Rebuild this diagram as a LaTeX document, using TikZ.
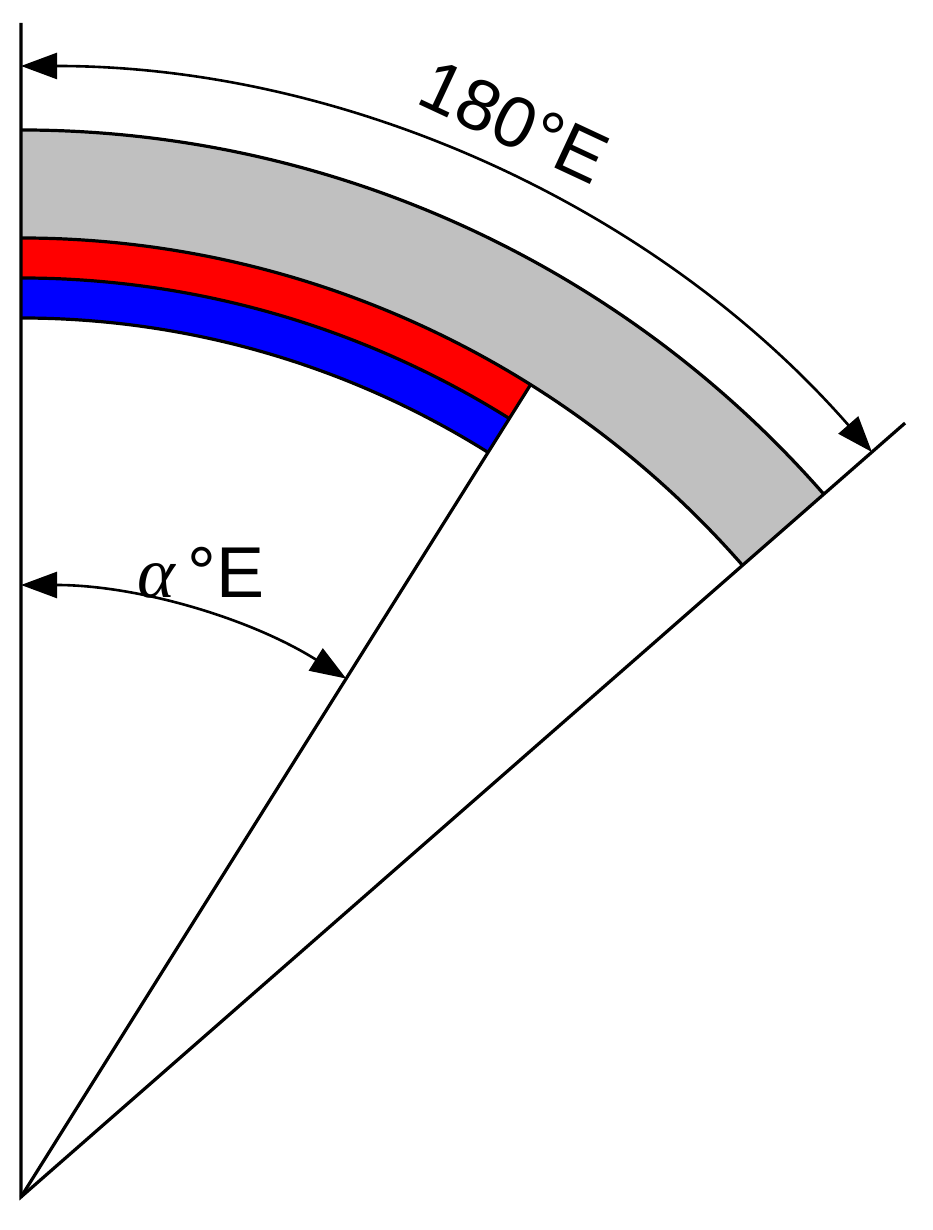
\documentclass[tikz,border=0pt]{standalone}
\usepackage{fontspec}
\setmainfont{Liberation Sans}
\newfontfamily\greekfont{Liberation Serif}
\usetikzlibrary{arrows.meta,calc}
\definecolor{bandgray}{RGB}{192,192,192}
\definecolor{bandred}{RGB}{255,0,0}
\definecolor{bandblue}{RGB}{0,0,255}
\begin{document}
\begin{tikzpicture}[x=1pt,y=1pt,line width=3.2pt,line join=miter,
  dimarrow/.style={{Triangle[length=36pt,width=26pt]}-{Triangle[length=36pt,width=26pt]},line width=2.6pt},
  lbl/.style={font=\fontsize{72}{84}\selectfont,inner sep=0pt}]
\useasboundingbox (0,0) rectangle (932,1230);
\def\as{41.2}
\def\am{57.9}
\coordinate (O) at (21,33);
\coordinate (top) at ($(O)+(90:1174)$);
\coordinate (slantend) at ($(O)+(\as:1175)$);
\coordinate (midend) at ($(O)+(\am:959)$);
% bands
\fill[bandgray] ($(O)+(90:1067)$) arc[start angle=90,end angle=\as,radius=1067]
  -- ($(O)+(\as:959)$) arc[start angle=\as,end angle=90,radius=959] -- cycle;
\fill[bandred] ($(O)+(90:959)$) arc[start angle=90,end angle=\am,radius=959]
  -- ($(O)+(\am:919)$) arc[start angle=\am,end angle=90,radius=919] -- cycle;
\fill[bandblue] ($(O)+(90:919)$) arc[start angle=90,end angle=\am,radius=919]
  -- ($(O)+(\am:879)$) arc[start angle=\am,end angle=90,radius=879] -- cycle;
% band borders
\draw ($(O)+(90:1067)$) arc[start angle=90,end angle=\as,radius=1067];
\draw ($(O)+(90:959)$) arc[start angle=90,end angle=\as,radius=959];
\draw ($(O)+(90:919)$) arc[start angle=90,end angle=\am,radius=919];
\draw ($(O)+(90:879)$) arc[start angle=90,end angle=\am,radius=879];
% radial lines
\draw (top) -- (O) -- (slantend);
\draw (O) -- (midend);
% dimension arcs
\coordinate (d1s) at ($(O)+(90:1131)$);
\coordinate (d2s) at ($(O)+(90:612)$);
\draw[dimarrow] (d1s) arc[start angle=90,end angle=\as,radius=1131];
\draw[dimarrow] (d2s) arc[start angle=90,end angle=\am,radius=612];
% labels
\node[lbl,rotate=-25] (l180) at ($(O)+(493,1075)$) {180°E};
\node[lbl] (lalpha) at ($(O)+(180,624)$) {{\greekfont\itshape α}\,°E};
\end{tikzpicture}
\end{document}
